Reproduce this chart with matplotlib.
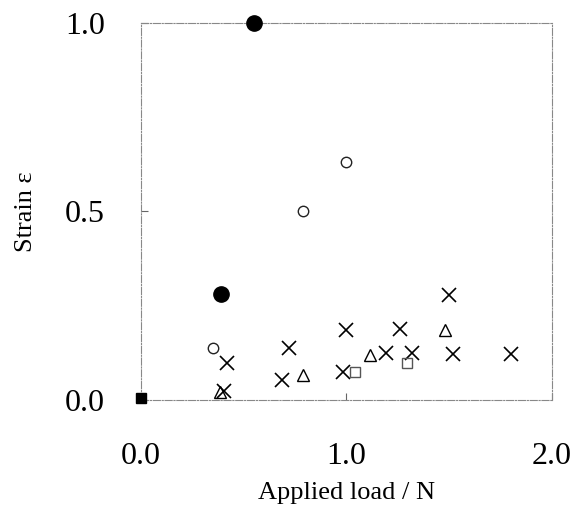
import matplotlib.pyplot as plt

plt.rcParams['font.family'] = ['Liberation Serif', 'DejaVu Serif']

# data
filled_x = [0.55, 0.39]
filled_y = [1.0, 0.28]
origin_x = [0.0]
origin_y = [0.005]
open_x = [0.35, 0.79, 1.0]
open_y = [0.138, 0.50, 0.63]
cross_x = [0.42, 0.405, 0.72, 0.686, 1.0, 0.985, 1.19, 1.26, 1.32, 1.50, 1.52, 1.80]
cross_y = [0.098, 0.025, 0.138, 0.053, 0.186, 0.074, 0.125, 0.188, 0.125, 0.279, 0.122, 0.122]
tri_x = [0.385, 0.79, 1.115, 1.48]
tri_y = [0.022, 0.066, 0.119, 0.186]
sq_x = [1.04, 1.295]
sq_y = [0.074, 0.098]

xticks = [0.0, 1.0, 2.0]
yticks = [0.0, 0.5, 1.0]

fig = plt.figure(figsize=(5.73, 5.18), dpi=100)
ax = fig.add_axes([0.246, 0.2278, 0.7174, 0.7278])

ax.plot(filled_x, filled_y, 'o', ms=11, color='black', clip_on=False, zorder=5)
ax.plot(origin_x, origin_y, 's', ms=6.5, color='black', clip_on=False, zorder=5)
ax.plot(open_x, open_y, 'o', ms=7.5, mfc='white', mec='#222222', mew=1.0, clip_on=False)
ax.plot(cross_x, cross_y, 'x', ms=10, color='black', mew=1.2, clip_on=False)
ax.plot(tri_x, tri_y, '^', ms=9, mfc='none', mec='black', mew=1.0, clip_on=False)
ax.plot(sq_x, sq_y, 's', ms=7, mfc='none', mec='#555555', mew=1.0, clip_on=False)

ax.set_xlim(0, 2.0)
ax.set_ylim(0, 1.0)
ax.set_xticks(xticks)
ax.set_yticks(yticks)
ax.set_xticklabels(['%.1f' % v for v in xticks], fontsize=23)
ax.set_yticklabels(['%.1f' % v for v in yticks], fontsize=23)
ax.tick_params(direction='in', length=5, width=0.8, color='#666666')
ax.tick_params(axis='x', pad=30)
ax.tick_params(axis='y', pad=26)

for s in ax.spines.values():
    s.set_linestyle('-.')
    s.set_linewidth(0.8)
    s.set_color('#888888')

ax.set_xlabel('Applied load / N', fontsize=19, labelpad=8)
ax.set_ylabel('Strain ε', fontsize=19, labelpad=20)

fig.savefig('out.png', dpi=100)
